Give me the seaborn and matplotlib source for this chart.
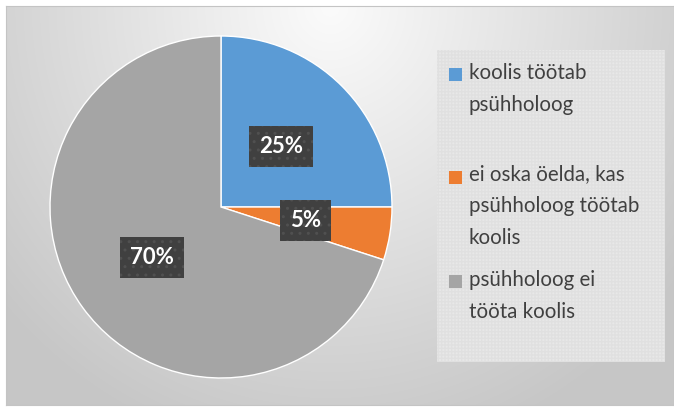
import numpy as np
import matplotlib
matplotlib.use("Agg")
import matplotlib.pyplot as plt
from matplotlib.patches import Rectangle
import seaborn as sns

# data
labels = ["koolis töötab\npsühholoog",
          "ei oska öelda, kas\npsühholoog töötab\nkoolis",
          "psühholoog ei\ntööta koolis"]
shares = [25, 5, 70]
colors = ["#5B9BD5", "#ED7D31", "#A5A5A5"]

sns.set_theme(style="white")
plt.rcParams['font.family'] = ['Lato', 'DejaVu Sans']

W, H = 674, 408
fig = plt.figure(figsize=(W / 100, H / 100), dpi=100)
fig.patch.set_facecolor("white")

# background panel with radial gradient
bg = fig.add_axes([6 / W, 3 / H, 668 / W, 399 / H])
yy, xx = np.mgrid[0:399, 0:668]
d = np.sqrt(((xx - 324) / 400.0) ** 2 + (yy / 420.0) ** 2)
v = np.clip(0.985 - 0.19 * d, 0.78, 1.0)
bg.imshow(np.dstack([v, v, v]), aspect="auto", interpolation="bilinear")
bg.set_xticks([])
bg.set_yticks([])
for s in bg.spines.values():
    s.set_color("#c4c4c4")
    s.set_linewidth(0.8)

# pie
ax = fig.add_axes([50 / W, 30 / H, 342 / W, 342 / H])
wedges, texts, autotexts = ax.pie(
    shares, colors=colors, startangle=90, counterclock=False,
    autopct="%.0f%%", pctdistance=0.5,
    textprops=dict(color="white", fontsize=16, fontweight="bold"))
for t in autotexts:
    t.set_bbox(dict(boxstyle="square,pad=0.45", fc="#404040", ec="#505050",
                    lw=0, hatch=".."))
ax.set_xlim(-1, 1)
ax.set_ylim(-1, 1)

# legend
fig.patches.append(Rectangle((437 / W, 1 - 362 / H), 228 / W, 312 / H,
                             transform=fig.transFigure, fc="#e8e8e8",
                             ec="#e0e0e0", lw=0, hatch="+++++", zorder=1))
baselines = [81, 184, 288]
line_gap = 30
for lab, col, b in zip(labels, colors, baselines):
    fig.patches.append(Rectangle((449 / W, 1 - b / H), 13 / W, 13 / H,
                                 transform=fig.transFigure, fc=col, lw=0,
                                 zorder=2))
    # va='baseline' anchors the last line, so shift down by the extra lines
    last = b + line_gap * lab.count("\n")
    fig.text(469 / W, 1 - last / H, lab, fontsize=14.8, color="#404040",
             va="baseline", ha="left", linespacing=1.76, zorder=3)

fig.savefig("out.png", dpi=100)
